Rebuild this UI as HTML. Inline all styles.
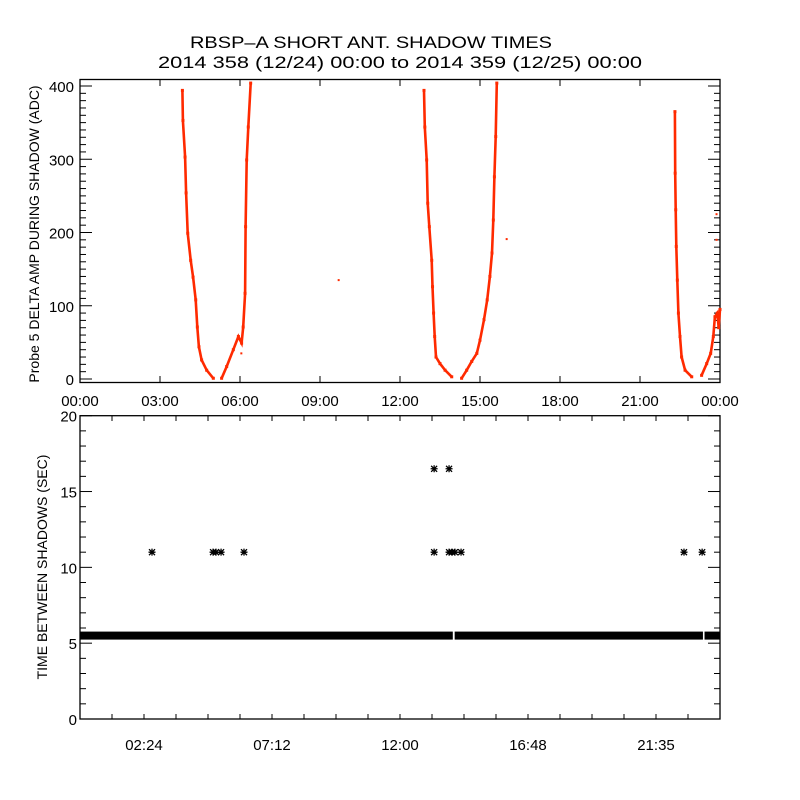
<!DOCTYPE html>
<html><head><meta charset="utf-8"><style>
html,body{margin:0;padding:0;background:#fff;}
svg{display:block;}
text{font-family:"Liberation Sans",sans-serif;fill:#000;}
</style></head><body>
<svg id="chart" width="800" height="800" viewBox="0 0 800 800">
<rect width="800" height="800" fill="#fff"/>
<text x="371" y="48" font-size="17" text-anchor="middle" textLength="362" lengthAdjust="spacingAndGlyphs">RBSP–A SHORT ANT. SHADOW TIMES</text>
<text x="400" y="68" font-size="17" text-anchor="middle" textLength="484" lengthAdjust="spacingAndGlyphs">2014 358 (12/24) 00:00 to 2014 359 (12/25) 00:00</text>
<g id="topPanel"></g>
<g id="botPanel"></g>
</svg>
<script>
// ---- Top panel data (hour, ADC value) ----
const curve1Hours = [3.84,3.86,3.94,3.98,4.04,4.15,4.24,4.34,4.40,4.46,4.56,4.75,5.0];
const curve1Values = [394,353,303,254,199,162,139,108,71,44,26,12,1];
const curve2Hours = [5.31,5.5,5.75,5.94,6.06,6.12,6.19,6.21,6.25,6.31,6.40];
const curve2Values = [1,17,40,58,49,71,117,208,299,344,404];
const curve3Hours = [12.9,12.93,13.0,13.04,13.1,13.19,13.22,13.26,13.3,13.35,13.5,13.69,13.94];
const curve3Values = [394,344,299,240,208,162,126,90,58,30,21,12,3];
const curve4Hours = [14.31,14.5,14.69,14.88,15.0,15.15,15.27,15.37,15.45,15.5,15.54,15.59,15.63];
const curve4Values = [1,12,24,35,53,81,108,140,172,217,276,331,404];
const curve5Hours = [22.31,22.32,22.34,22.36,22.4,22.44,22.5,22.56,22.69,22.94];
const curve5Values = [365,281,231,181,135,90,58,30,12,3];
const curve6Hours = [23.31,23.5,23.65,23.75,23.81,23.9,23.95,24.0];
const curve6Values = [5,21,35,58,85,90,70,95];
const outlierHours = [9.7,16.0,6.05,23.87,23.87];
const outlierValues = [135,191,35,225,190];
const topXTicks = ["00:00","03:00","06:00","09:00","12:00","15:00","18:00","21:00","00:00"];
const topYTicks = [0,100,200,300,400];

// ---- Bottom panel data ----
const spikeHours = [2.7,4.99,5.1,5.29,6.15,13.28,13.84,13.95,14.06,14.29,22.65,23.33];
const spikeValues = [11,11,11,11,11,11,11,11,11,11,11,11];
const highHours = [13.28,13.84];
const highValues = [16.5,16.5];
const bandStart = [0,14.05,23.42];
const bandEnd = [13.98,23.36,24];
const bandValue = [5.5,5.5,5.5];
const botXTicks = ["02:24","07:12","12:00","16:48","21:35"];
const botYTicks = [0,5,10,15,20];

const NS="http://www.w3.org/2000/svg";
function mk(parent,tag,attrs){const e=document.createElementNS(NS,tag);for(const k in attrs)e.setAttribute(k,attrs[k]);parent.appendChild(e);return e;}

const L=80,R=720;
const tx=h=>L+h*(R-L)/24;
const tyTop=v=>379-v*0.7325;
const bx=h=>L+h*(R-L)/24;
const by=v=>719-v*(719-415.7)/20;

const topG=document.getElementById('topPanel');
const botG=document.getElementById('botPanel');

let f=mk(topG,'rect',{x:L,y:79.5,width:R-L,height:303,fill:'none',stroke:'#000','stroke-width':1.3});


for(let v=0;v<=400;v+=10){
  const len=(v%100===0)?12:6;
  let t=mk(topG,'line',{x1:L,x2:L+len,y1:tyTop(v),y2:tyTop(v),stroke:'#000','stroke-width':1});
  
  
  t=mk(topG,'line',{x1:R,x2:R-len,y1:tyTop(v),y2:tyTop(v),stroke:'#000','stroke-width':1});
  
  
}
topYTicks.forEach(v=>{
  const t=mk(topG,'text',{x:74,y:tyTop(v)+6,'font-size':15,'text-anchor':'end'});
  t.textContent=v;
  
  
});
topXTicks.forEach((s,i)=>{
  const x=tx(i*3);
  let t=mk(topG,'line',{x1:x,x2:x,y1:382.5,y2:376,stroke:'#000','stroke-width':1});
  
  
  t=mk(topG,'line',{x1:x,x2:x,y1:79.5,y2:86,stroke:'#000','stroke-width':1});
  
  
  const lb=mk(topG,'text',{x:x,y:406,'font-size':15,'text-anchor':'middle'});
  lb.textContent=s;
  
  
});
let yl=mk(topG,'text',{x:0,y:0,'font-size':14,'text-anchor':'middle',transform:'translate(39,234) rotate(-90)'});
yl.textContent='Probe 5 DELTA AMP DURING SHADOW (ADC)';



const curves=[[curve1Hours,curve1Values],[curve2Hours,curve2Values],[curve3Hours,curve3Values],[curve4Hours,curve4Values],[curve5Hours,curve5Values],[curve6Hours,curve6Values]];
curves.forEach((c,ci)=>{
  const pts=c[0].map((h,i)=>tx(h).toFixed(1)+','+tyTop(c[1][i]).toFixed(1)).join(' ');
  const pl=mk(topG,'polyline',{points:pts,fill:'none',stroke:'#ff2a00','stroke-width':2.6});
  
  
  c[0].forEach((h,i)=>{
    const d=mk(topG,'rect',{x:tx(h)-1.5,y:tyTop(c[1][i])-1.5,width:3,height:3,fill:'#ff2a00'});
    
    
  });
});
outlierHours.forEach((h,i)=>{
  const d=mk(topG,'rect',{x:tx(h)-1,y:tyTop(outlierValues[i])-1,width:2,height:2,fill:'#ff2a00'});
  
  
});

f=mk(botG,'rect',{x:L,y:415.7,width:R-L,height:303.3,fill:'none',stroke:'#000','stroke-width':1.3});


for(let v=0;v<=20;v++){
  const len=(v%5===0)?12:6;
  let t=mk(botG,'line',{x1:L,x2:L+len,y1:by(v),y2:by(v),stroke:'#000','stroke-width':1});
  
  
  t=mk(botG,'line',{x1:R,x2:R-len,y1:by(v),y2:by(v),stroke:'#000','stroke-width':1});
  
  
}
botYTicks.forEach(v=>{
  const t=mk(botG,'text',{x:77,y:by(v)+6,'font-size':15,'text-anchor':'end'});
  t.textContent=v;
  
  
});
for(let k=0;k<=20;k++){
  const x=bx(k*1.2);
  let t=mk(botG,'line',{x1:x,x2:x,y1:719,y2:714,stroke:'#000','stroke-width':1});
  
  
  t=mk(botG,'line',{x1:x,x2:x,y1:415.7,y2:421,stroke:'#000','stroke-width':1});
  
  
}
botXTicks.forEach((s,i)=>{
  const lb=mk(botG,'text',{x:bx(2.4*(2*i+1)),y:750,'font-size':15,'text-anchor':'middle'});
  lb.textContent=s;
  
  
});
yl=mk(botG,'text',{x:0,y:0,'font-size':14,'text-anchor':'middle',transform:'translate(47,567) rotate(-90)'});
yl.textContent='TIME BETWEEN SHADOWS (SEC)';



bandStart.forEach((s,i)=>{
  const r=mk(botG,'rect',{x:bx(s),y:by(bandValue[i])-4,width:bx(bandEnd[i])-bx(s),height:8,fill:'#000'});
  
  
});
function star(h,v,name){
  const x=bx(h),y=by(v);
  const g=mk(botG,'path',{d:`M${x-3.5},${y}H${x+3.5}M${x},${y-3.5}V${y+3.5}M${x-3},${y-3}L${x+3},${y+3}M${x-3},${y+3}L${x+3},${y-3}`,stroke:'#000','stroke-width':1.3,fill:'none'});
  
  
}
spikeHours.forEach((h,i)=>star(h,spikeValues[i],'interval-11s-marker'));
highHours.forEach((h,i)=>star(h,highValues[i],'interval-16s-marker'));
</script>
</body></html>
